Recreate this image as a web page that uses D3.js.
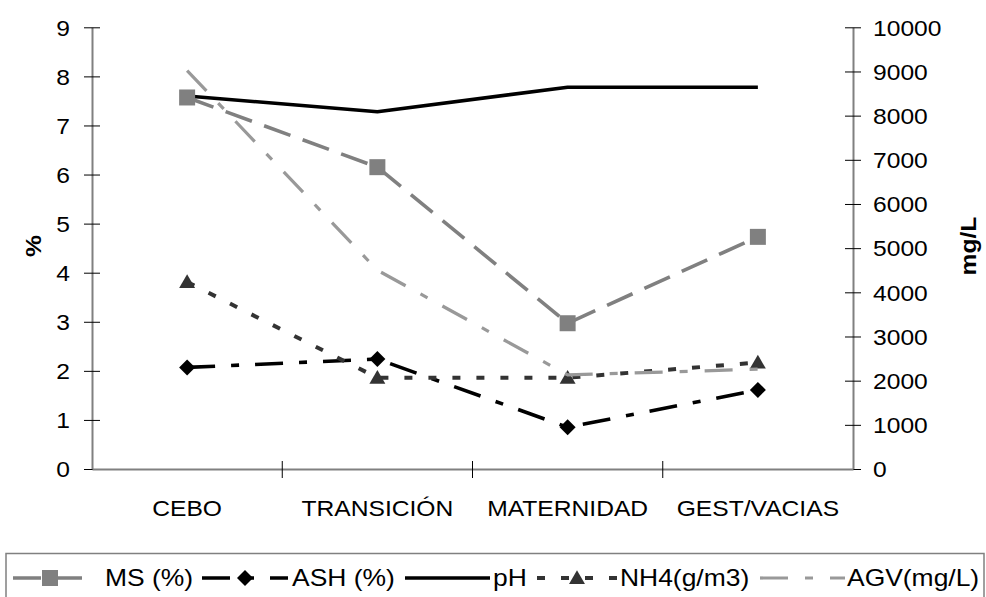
<!DOCTYPE html>
<html>
<head>
<meta charset="utf-8">
<script src="https://cdn.jsdelivr.net/npm/d3@7"></script>
<style>
  html, body { margin: 0; padding: 0; background: #fff; }
  svg { display: block; font-family: "Liberation Sans", Arial, sans-serif; }
</style>
</head>
<body>
<svg id="chart" width="986" height="597"></svg>
<script>
// Categories (x axis)
const categories = ["CEBO", "TRANSICIÓN", "MATERNIDAD", "GEST/VACIAS"];

// Series on the left axis (%)
const msValues  = [7.57, 6.15, 2.97, 4.73];
const ashValues = [2.07, 2.24, 0.85, 1.61];
const phValues  = [7.60, 7.28, 7.78, 7.78];
const nh4Values = [3.81, 1.86, 1.86, 2.17];

// Series on the right axis (mg/L)
const agvValues = [9020, 4500, 2130, 2260];

// Tick labels
const leftTicks  = [0, 1, 2, 3, 4, 5, 6, 7, 8, 9];
const rightTicks = [0, 1000, 2000, 3000, 4000, 5000, 6000, 7000, 8000, 9000, 10000];

// Legend labels
const legendLabels = ["MS (%)", "ASH (%)", "pH", "NH4(g/m3)", "AGV(mg/L)"];

const svg = d3.select("#chart");
const plot = { left: 92, right: 853, top: 27.3, bottom: 469 };

const x = d3.scaleBand().domain(categories).range([plot.left, plot.right]).padding(0);
const cx = c => x(c) + x.bandwidth() / 2;
const yL = d3.scaleLinear().domain([0, 9]).range([plot.bottom, plot.top]);
const yR = d3.scaleLinear().domain([0, 10000]).range([plot.bottom, plot.top]);

// Series styling
const series = [
  { name: legendLabels[0], values: msValues,  y: yL, color: "#808080", width: 3.6, dash: "28,13", marker: "square", mcolor: "#808080" },
  { name: legendLabels[1], values: ashValues, y: yL, color: "#000000", width: 3.6, dash: "28,16,8,16", marker: "diamond", mcolor: "#000000" },
  { name: legendLabels[2], values: phValues,  y: yL, color: "#000000", width: 3.6, dash: null, marker: null },
  { name: legendLabels[3], values: nh4Values, y: yL, color: "#333333", width: 4, dash: "8,16", marker: "triangle", mcolor: "#333333" },
  { name: legendLabels[4], values: agvValues, y: yR, color: "#999999", width: 3.2, dash: "28,17,8,17", marker: null }
];

const symbolFor = {
  square:   d3.symbol().type(d3.symbolSquare).size(256),
  diamond:  d3.symbol().type(d3.symbolSquare).size(128),
  triangle: d3.symbol().type(d3.symbolTriangle).size(110)
};
function drawMarker(g, kind, px, py, color) {
  const p = g.append("path")
    .attr("d", symbolFor[kind]())
    .attr("fill", color);
  if (kind === "diamond") p.attr("transform", `translate(${px},${py}) rotate(45)`);
  else if (kind === "triangle") p.attr("transform", `translate(${px},${py + 1.5})`);
  else p.attr("transform", `translate(${px},${py})`);
}

const textStyle = (sel, size, sx, weight) => sel
  .attr("font-size", size)
  .attr("font-weight", weight || "normal")
  .attr("fill", "#000");

// ---- Axes ----
const axisColor = "#808080";

const gLeft = svg.append("g").attr("transform", `translate(${plot.left},0)`)
  .call(d3.axisLeft(yL).tickValues(leftTicks).tickFormat(d3.format("d")).tickSizeOuter(0));
const gRight = svg.append("g").attr("transform", `translate(${plot.right},0)`)
  .call(d3.axisRight(yR).tickValues(rightTicks).tickFormat(d3.format("d")).tickSizeOuter(0));
const gBottom = svg.append("g").attr("transform", `translate(0,${plot.bottom})`)
  .call(d3.axisBottom(x).tickSize(0).tickSizeOuter(0));

[gLeft, gRight, gBottom].forEach(g => {
  g.select(".domain").attr("stroke", axisColor).attr("stroke-width", 2);
});
gLeft.selectAll(".tick line").attr("x1", -8).attr("x2", 8).attr("stroke", "#000").attr("stroke-width", 1);
gRight.selectAll(".tick line").attr("x1", -8).attr("x2", 8).attr("stroke", "#000").attr("stroke-width", 1);

gLeft.selectAll(".tick text")
  .attr("x", 0).attr("dy", "0.35em")
  .attr("transform", "translate(-22,0) scale(1.12,1)")
  .attr("font-family", null)
  .call(s => textStyle(s, 22, 1.12));
gRight.selectAll(".tick text")
  .attr("x", 0).attr("dy", "0.35em")
  .attr("transform", "translate(20,0) scale(1.12,1)")
  .attr("font-family", null)
  .call(s => textStyle(s, 22, 1.12));
gBottom.selectAll(".tick text")
  .attr("y", 0).attr("dy", "0.35em")
  .attr("transform", "translate(0,39) scale(1.12,1)")
  .attr("font-family", null)
  .call(s => textStyle(s, 22, 1.12));
[gLeft, gRight, gBottom].forEach(g => g.attr("font-family", null).attr("font-size", null));

// Category boundary ticks on the x axis
svg.append("g").selectAll("line")
  .data(categories.slice(1))
  .join("line")
  .attr("x1", d => x(d)).attr("x2", d => x(d))
  .attr("y1", plot.bottom - 8).attr("y2", plot.bottom + 9)
  .attr("stroke", "#000").attr("stroke-width", 1);

// Axis titles
svg.append("text")
  .attr("transform", "translate(33,246) rotate(-90) scale(1.12,1)")
  .attr("text-anchor", "middle").attr("dy", "0.35em")
  .call(s => textStyle(s, 22, 1.12, "bold"))
  .text("%");
svg.append("text")
  .attr("transform", "translate(969,246) rotate(-90) scale(1.12,1)")
  .attr("text-anchor", "middle").attr("dy", "0.3em")
  .call(s => textStyle(s, 22, 1.12, "bold"))
  .text("mg/L");

// ---- Series ----
const lineGen = yScale => d3.line()
  .x((v, i) => cx(categories[i]))
  .y(v => yScale(v));

const primary = series.filter(s => s.y === yL);
const secondary = series.filter(s => s.y === yR);

function drawLine(s) {
  svg.append("path")
    .datum(s.values)
    .attr("d", lineGen(s.y))
    .attr("fill", "none")
    .attr("stroke", s.color)
    .attr("stroke-width", s.width)
    .attr("stroke-dasharray", s.dash)
    .attr("stroke-linecap", "butt")
    .attr("stroke-linejoin", "round");
}
primary.forEach(drawLine);
const markerLayer = svg.append("g");
primary.filter(s => s.marker).forEach(s => {
  s.values.forEach((v, i) => drawMarker(markerLayer, s.marker, cx(categories[i]), s.y(v), s.mcolor));
});
secondary.forEach(drawLine);

// ---- Legend ----
svg.append("rect")
  .attr("x", 6).attr("y", 553.5).attr("width", 978).attr("height", 60)
  .attr("fill", "none").attr("stroke", axisColor).attr("stroke-width", 1.5);

const legendY = 578;
const legendLayout = [
  { x0: 13,  x1: 87,  tx: 105 },
  { x0: 202, x1: 288, tx: 292 },
  { x0: 405, x1: 490, tx: 493 },
  { x0: 537, x1: 617, tx: 620 },
  { x0: 760, x1: 845, tx: 847 }
];
const gLegend = svg.append("g");
series.forEach((s, i) => {
  const L = legendLayout[i];
  gLegend.append("line")
    .attr("x1", L.x0).attr("x2", L.x1)
    .attr("y1", legendY).attr("y2", legendY)
    .attr("stroke", s.color).attr("stroke-width", s.width)
    .attr("stroke-dasharray", s.dash);
  if (s.marker) drawMarker(gLegend, s.marker, (L.x0 + L.x1) / 2, legendY, s.mcolor);
  gLegend.append("text")
    .attr("transform", `translate(${L.tx},${legendY}) scale(1.15,1)`)
    .attr("dy", "0.35em")
    .call(t => textStyle(t, 23, 1.15))
    .text(s.name);
});
</script>
</body>
</html>
